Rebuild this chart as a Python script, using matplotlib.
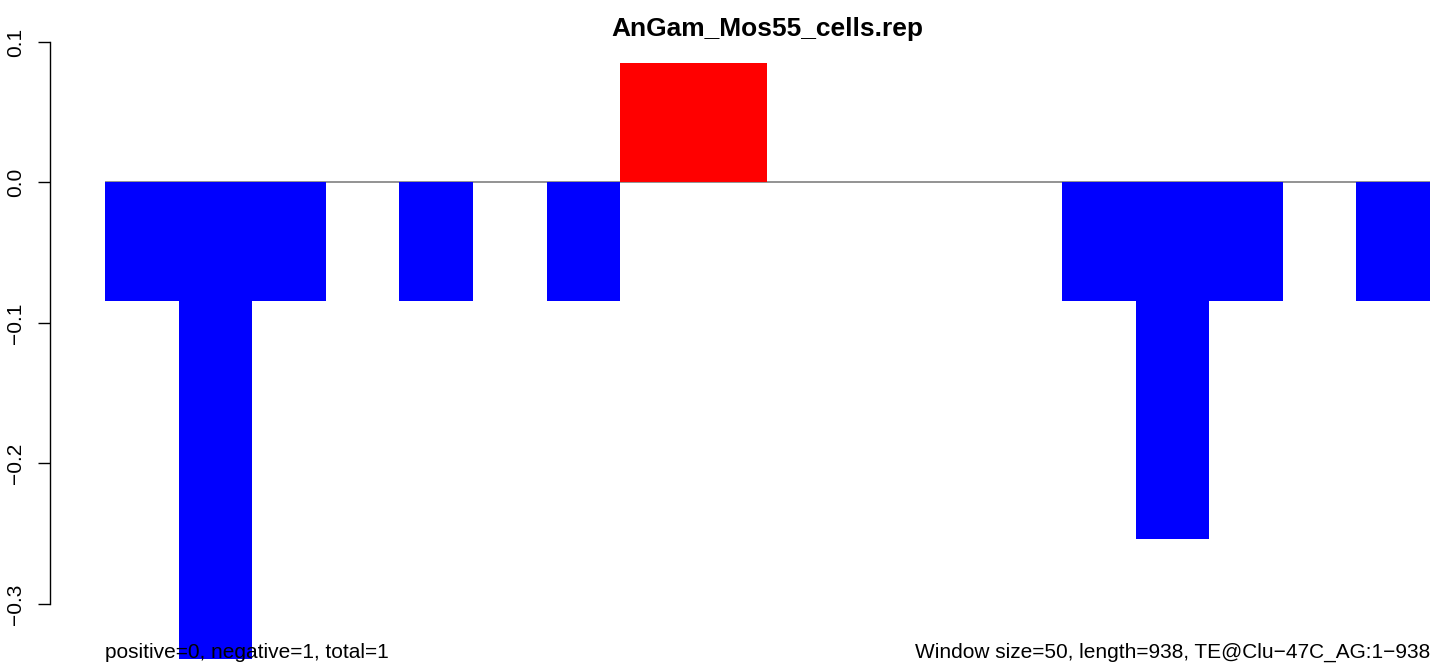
import matplotlib
matplotlib.use("Agg")
import matplotlib.pyplot as plt

title = "AnGam_Mos55_cells.rep"
values = [-0.0847, -0.339, -0.0847, 0, -0.0847, 0, -0.0847, 0.0847, 0.0847,
          0, 0, 0, 0, -0.0847, -0.254, -0.0847, 0, -0.0847]
yticks = [-0.3, -0.2, -0.1, 0.0, 0.1]
ytick_labels = ["\u22120.3", "\u22120.2", "\u22120.1", "0.0", "0.1"]
left_note = "positive=0, negative=1, total=1"
right_note = "Window size=50, length=938, TE@Clu\u221247C_AG:1\u2212938"

plt.rcParams['font.family'] = ['Liberation Sans', 'DejaVu Sans']

W, H = 1439, 666
fig = plt.figure(figsize=(W / 100, H / 100), dpi=100)
x0, x1 = 105, 1430
ytop, ybot = 42, 660
ax = fig.add_axes([x0 / W, (H - ybot) / H, (x1 - x0) / W, (ybot - ytop) / H])

n = len(values)
xs = list(range(n))
colors = ["red" if v > 0 else "blue" for v in values]
ax.bar(xs, values, width=1.0, align="edge", color=colors, linewidth=0, zorder=2)
ax.axhline(0, color="gray", linewidth=1.2, zorder=1)
ax.set_xlim(0, n)
ax.set_ylim(-0.34, 0.1)

for s in ["top", "right", "bottom"]:
    ax.spines[s].set_visible(False)
ax.spines["left"].set_position(("outward", (x0 - 50) * 72 / 100))
ax.spines["left"].set_bounds(-0.3, 0.1)
ax.spines["left"].set_linewidth(1.0)
ax.set_xticks([])
ax.set_yticks(yticks)
ax.set_yticklabels(ytick_labels, rotation=90, va="center", fontsize=15)
ax.tick_params(axis="y", length=12 * 72 / 100, width=1.0, pad=9)

fig.text(((x0 + x1) / 2) / W, 1 - 29 / H, title, ha="center", va="center",
         fontsize=19, fontweight="bold")
fig.text(x0 / W, 1 - 652 / H, left_note, ha="left", va="center", fontsize=15)
fig.text(x1 / W, 1 - 652 / H, right_note, ha="right", va="center", fontsize=15)

fig.savefig("out.png", dpi=100)
